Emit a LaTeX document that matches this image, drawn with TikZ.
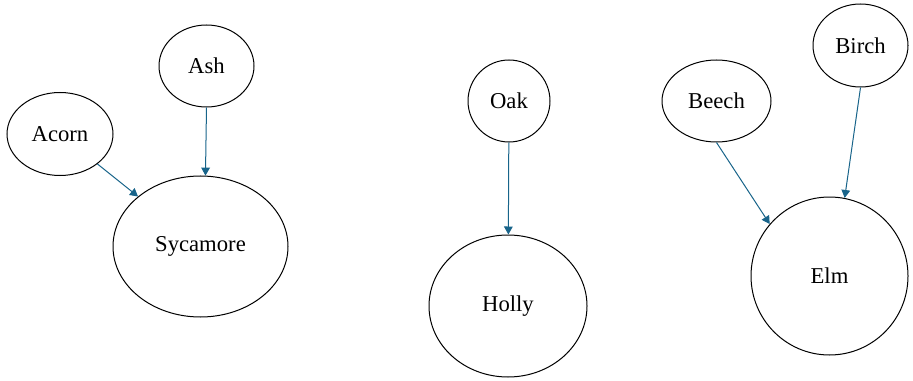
\documentclass[tikz,border=0pt]{standalone}
\usepackage{fontspec}
\setmainfont{Liberation Serif}
\usetikzlibrary{shapes.geometric,arrows.meta}
\definecolor{linkblue}{RGB}{24,100,138}

\begin{document}
\begin{tikzpicture}[x=0.75pt,y=-0.75pt,
		tree/.style 2 args={draw,ellipse,inner sep=0pt,line width=0.75pt,
			minimum width=#1,minimum height=#2,font=\fontsize{17}{20}\selectfont},
		link/.style={draw=linkblue,line width=0.75pt,-{Triangle[length=6pt,width=6.5pt]}}]
		\useasboundingbox (0,0) rectangle (913,381);
		
		% Left group
		\node[tree={79.5pt}{62.25pt}] (acorn) at (60,134) {Acorn};
		\node[tree={71.25pt}{61.5pt}] (ash) at (206.5,66) {Ash};
		\node[tree={131.25pt}{105.75pt}] (sycamore) at (200.5,246.5) {Sycamore};
		
		% Middle group
		\node[tree={61.5pt}{61.5pt}] (oak) at (509,101) {Oak};
		\node[tree={118.5pt}{106.5pt}] (holly) at (508,306) {Holly};
		
		% Right group
		\node[tree={81.75pt}{61.5pt}] (beech) at (716.5,101) {Beech};
		\node[tree={71.25pt}{62.25pt}] (birch) at (860.5,45.5) {Birch};
		\node[tree={117.75pt}{118.5pt}] (elm) at (829.5,276) {Elm};
		
		% Links
		\draw[link] (acorn) -- (sycamore);
		\draw[link] (ash.south) -- (sycamore.86);
		\draw[link] (oak) -- (holly);
		\draw[link] (beech.south) -- (elm.139);
		\draw[link] (birch.south) -- (elm.79);
	\end{tikzpicture}
\end{document}
